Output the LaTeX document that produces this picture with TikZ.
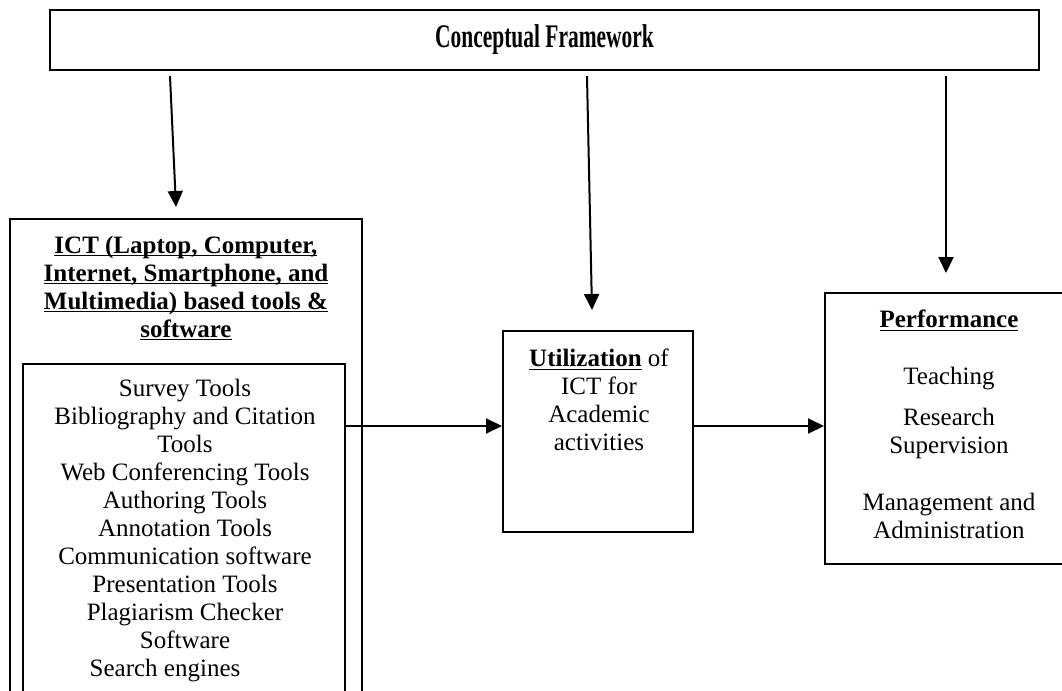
\documentclass[tikz,border=0pt]{standalone}
\usepackage{fontspec}
\setmainfont{Liberation Serif}
\newfontfamily\titlefont{Liberation Serif}[FakeStretch=0.65]
\newcommand{\ulword}[1]{\underline{\smash{#1}}}
\usetikzlibrary{arrows.meta,positioning}

\begin{document}
\begin{tikzpicture}[
    x=0.5pt, y=-0.5pt,
    box/.style={rectangle, draw, line width=1pt, inner sep=0pt},
    label/.style={align=center, inner sep=0pt, font=\fontsize{12.5}{14}\selectfont},
    heading/.style={label, font=\fontsize{12.5}{14}\selectfont\bfseries},
    arrow/.style={-{Triangle[length=8pt,width=7.5pt]}, line width=1pt}
]
\useasboundingbox (0,0) rectangle (1062,691);

% Title
\node[box, line width=1.2pt, minimum width=494.5pt, minimum height=30pt] (title) at (544.5,40)
    {\titlefont\fontsize{16.5}{18}\selectfont\bfseries Conceptual Framework};

% ICT tools (open at the bottom of the page)
\node[box, minimum width=176pt, minimum height=250.5pt] (ict) at (186,469.5) {};
\node[heading] (ict-head) at (186,297)
    {\ulword{ICT (Laptop, Computer,}\\
     \ulword{Internet, Smartphone, and}\\
     \ulword{Multimedia) based tools \&}\\
     \ulword{software}};
\node[box, minimum width=161pt, minimum height=178pt] (tools) at (184,542) {};
\node[label] (tools-list) at (185,531)
    {Survey Tools\\
     Bibliography and Citation\\
     Tools\\
     Web Conferencing Tools\\
     Authoring Tools\\
     Annotation Tools\\
     Communication software\\
     Presentation Tools\\
     Plagiarism Checker\\
     Software\\
     Search engines\hspace*{20pt}};

% Utilization
\node[box, minimum width=95pt, minimum height=100.5pt] (util) at (598,431.5) {};
\node[label] (util-text) at (599,399.5)
    {\ulword{\textbf{Utilization}} of\\
     ICT for\\
     Academic\\
     activities};

% Performance
\node[box, minimum width=125pt, minimum height=135.5pt] (perf) at (950,428.5) {};
\node[label] (perf-text) at (949,433)
    {\ulword{\textbf{Performance}}\\[14.5pt]
     Teaching\\[6.5pt]
     Research\\
     Supervision\\[14.5pt]
     Management and\\
     Administration};

% Arrow ends
\coordinate (a1) at (170,76);
\coordinate (b1) at (176,207);
\coordinate (a2) at (587,76);
\coordinate (b2) at (592,310);
\coordinate (a3) at (946,76);
\coordinate (b3) at (946,273);
\coordinate (mid) at (0,426);

% Arrows
\draw[arrow] (a1) -- (b1);
\draw[arrow] (a2) -- (b2);
\draw[arrow] (a3) -- (b3);
\draw[arrow] (tools.east |- mid) -- (util.west |- mid);
\draw[arrow] (util.east |- mid) -- (perf.west |- mid);

\end{tikzpicture}
\end{document}
